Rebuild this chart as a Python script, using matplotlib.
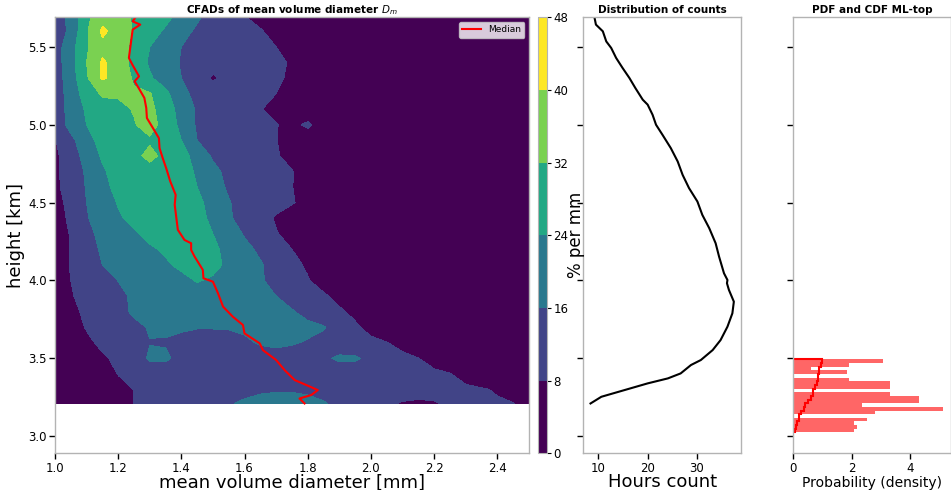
import numpy as np
import matplotlib
matplotlib.use("Agg")
import matplotlib.pyplot as plt

# --- CFAD of Dm: % per mm at grid nodes (rows = height, cols = diameter) ---
diam_nodes = np.linspace(1.0, 2.5, 31)
height_rows = [3.21, 3.3, 3.4, 3.5, 3.6, 3.7, 3.8, 3.9, 4.0, 4.1, 4.2, 4.3, 4.4,
               4.5, 4.6, 4.7, 4.8, 4.9, 5.0, 5.1, 5.2, 5.3, 5.4, 5.5, 5.6, 5.7]
cfad_rows = [
    [0, 1, 2, 3.5, 6, 8.1, 10, 11, 12, 13, 14, 15.5, 17, 18, 18, 18, 17.5, 16.5, 14.5, 12, 10, 9, 7.5, 7, 7.5, 9, 9, 8.8, 8.6, 8.2, 6],
    [0, 1, 2, 3.5, 6, 8.1, 10, 11, 11.5, 12, 12.5, 13, 14, 15, 15.5, 15.5, 15, 14, 13, 12.5, 12, 11.5, 11, 10.5, 10, 9.5, 9, 8.5, 7.5, 5, 3],
    [0.5, 1.5, 3, 5, 8.2, 11, 12, 12.5, 12.5, 12.5, 12.5, 13, 13.5, 13.5, 13.5, 13, 13, 13, 12.5, 12, 11.5, 11, 10, 9.5, 9, 8.2, 6, 4, 2, 1, 0.5],
    [0.5, 2, 4.5, 7, 9.5, 12, 17, 17, 14, 13, 13, 13.5, 14, 14.5, 14, 13.5, 14, 15, 17, 17, 14, 11, 9.5, 8.1, 6, 4, 2, 1],
    [1, 3.5, 6.5, 9.5, 12, 14.5, 15.8, 15.5, 15, 14.5, 14.5, 15, 15.5, 16.3, 17, 16.5, 15.5, 14, 12.5, 11, 9.5, 8.2, 6, 4, 2.5, 1.5, 1],
    [1.5, 5, 8.5, 11, 12.5, 14.5, 16.5, 17, 16.5, 16.2, 16.2, 16.2, 16.5, 17, 18, 18, 17.5, 16.5, 13, 9, 6, 3.5, 2, 1],
    [2, 6, 9.5, 11.5, 14, 17, 18.5, 19.5, 20, 20, 20, 19.5, 19, 18.5, 18, 16.5, 14, 11.5, 9, 6.5, 4, 2, 1],
    [2.5, 7.5, 10, 12, 14.5, 17, 18.5, 19.5, 20, 20.5, 20.5, 20, 19, 17.5, 16, 13.5, 11, 9, 6, 3.5, 2, 1],
    [3, 8, 11, 13.5, 16.1, 18, 19.5, 20.5, 22, 24.5, 23, 21, 19, 16.5, 14.5, 11.5, 8.5, 5, 2.5, 1],
    [3.5, 8.5, 12, 16, 18.5, 20, 21.5, 23, 25.5, 26.5, 26, 22.5, 19, 16.5, 14, 10, 7, 4, 2, 1],
    [4, 8.5, 13, 17, 19, 21, 23, 25, 27.5, 28.5, 26, 21, 17.5, 15, 11, 8, 5, 2.5, 1],
    [4, 8.5, 14, 18, 21, 23, 26, 28, 29, 28.5, 24, 19, 15.5, 11, 8.3, 6.5, 4, 2, 1],
    [4.5, 9.5, 15.5, 19, 23, 26, 28, 29, 29, 27, 22, 17, 13, 10, 7.5, 5, 3, 1.5, 1],
    [5.5, 10, 16, 20, 24.5, 27, 28.5, 29, 28.5, 26, 21, 16.5, 13, 11, 9.5, 8.5, 6, 3, 1],
    [6.5, 11, 16.5, 22, 26, 28, 29, 29, 28, 24, 19, 15, 12, 10, 9.5, 8.2, 5, 2, 1],
    [6.5, 11.5, 17, 23, 27, 28.5, 29, 29, 27, 23, 18, 14, 11.5, 10, 9.5, 8.3, 5, 2, 1],
    [6.5, 12, 19, 25, 28, 30, 34, 30, 27, 21, 15, 12, 10.5, 9.5, 8.6, 6, 3, 1.5, 0.5],
    [7.5, 14, 21, 27, 29, 30, 31, 29, 24, 16, 12, 11, 10, 9, 8.2, 5, 3, 1],
    [11, 18.5, 24, 28, 30, 31.5, 35, 29, 22, 15, 12, 11, 10, 9.5, 8.3, 6, 9.5, 4, 1],
    [11, 19, 25, 29, 30, 32.5, 34, 28, 21, 15, 12, 10.5, 9.5, 8.3, 6, 4, 2, 1],
    [12, 19, 28, 33, 33, 33, 32.5, 26, 18, 14, 12, 11, 10, 9.5, 8, 5, 3, 1],
    [12, 20, 31, 41, 37, 31, 25, 20, 16, 12, 7, 10.5, 10.5, 10.5, 9.5, 6.5, 4, 2, 1],
    [12, 21, 32, 41, 37, 29, 23, 19, 15.5, 13, 11, 11, 11, 11, 10, 7, 4, 2, 1],
    [12, 21, 31, 38, 36, 30, 24, 20, 16, 14, 13, 12, 11, 10, 8, 5, 3, 1.5, 1],
    [11, 18, 31, 41.5, 37, 31, 27, 23, 18, 15, 13, 12, 10, 8.5, 6, 4, 2, 1],
    [12, 18, 30, 37, 36, 31, 29, 26, 22, 17, 14, 11, 8, 6, 4, 3, 2, 1],
]
cfad_levels = [0, 8, 16, 24, 32, 40, 48]

# median Dm profile
median_height = [5.69, 5.664, 5.643, 5.611, 5.536, 5.429, 5.386, 5.311, 5.279, 5.225,
                 5.172, 5.107, 5.043, 4.979, 4.914, 4.85, 4.786, 4.721, 4.636, 4.55,
                 4.486, 4.421, 4.325, 4.26, 4.239, 4.196, 4.153, 4.068, 4.014, 3.992,
                 3.918, 3.832, 3.767, 3.714, 3.66, 3.596, 3.553, 3.489, 3.424, 3.36,
                 3.328, 3.296, 3.264, 3.242, 3.21]
median_diam = [1.255, 1.246, 1.27, 1.246, 1.241, 1.234, 1.245, 1.266, 1.252, 1.268,
               1.283, 1.289, 1.291, 1.31, 1.329, 1.331, 1.341, 1.352, 1.365, 1.382,
               1.379, 1.383, 1.389, 1.41, 1.431, 1.431, 1.442, 1.468, 1.47, 1.5,
               1.516, 1.532, 1.563, 1.595, 1.6, 1.648, 1.658, 1.70, 1.727, 1.759,
               1.796, 1.832, 1.811, 1.774, 1.79]

# hours count per height
count_height = [5.69, 5.643, 5.60, 5.535, 5.493, 5.429, 5.365, 5.30, 5.236, 5.161,
                5.129, 5.064, 5.0, 4.936, 4.85, 4.764, 4.678, 4.593, 4.507, 4.421,
                4.336, 4.239, 4.153, 4.046, 4.003, 3.982, 3.939, 3.864, 3.789, 3.703,
                3.617, 3.553, 3.489, 3.457, 3.403, 3.371, 3.339, 3.296, 3.253, 3.21]
count_hours = [9.2, 9.5, 10.9, 11.6, 12.6, 13.6, 14.9, 16.3, 17.5, 19.0,
               20.0, 21.0, 21.7, 23.0, 24.7, 26.1, 27.1, 28.4, 30.1, 31.1,
               32.5, 33.8, 34.5, 35.5, 36.2, 36.1, 36.5, 37.5, 37.2, 36.2,
               34.8, 33.2, 30.8, 28.8, 26.7, 24.1, 20.0, 15.3, 10.6, 8.4]

# ML-top histogram (density per bin, bottom to top)
mltop_edges = np.linspace(3.024, 3.493, 21)
mltop_density = [2.08, 2.18, 2.08, 2.53, 0, 2.80, 5.15, 2.36, 4.30, 4.30,
                 3.31, 0, 3.31, 3.31, 1.92, 0, 1.84, 0.61, 1.92, 3.06]

ylims = (2.89, 5.69)
yticks = [3.0, 3.5, 4.0, 4.5, 5.0, 5.5]
spine_col = "0.7"


def style_axes(ax):
    for sp in ax.spines.values():
        sp.set_color(spine_col)
        sp.set_linewidth(1.0)
    ax.tick_params(direction="out", length=4, width=1, labelsize=8.5,
                   color="k", pad=2)


fig = plt.figure(figsize=(9.51, 4.9), dpi=100)
ax1 = fig.add_axes([0.0578, 0.0749, 0.4983, 0.8898])
ax2 = fig.add_axes([0.6134, 0.0749, 0.1658, 0.8898])
ax3 = fig.add_axes([0.8342, 0.0749, 0.1658, 0.8898])
cax = fig.add_axes([0.5657, 0.0749, 0.0095, 0.8898])
cax.set_zorder(5)

# CFAD panel
grid = np.zeros((len(height_rows), len(diam_nodes)))
for i, row in enumerate(cfad_rows):
    grid[i, :len(row)] = row
band_colors = [plt.cm.viridis(k / 5) for k in range(6)]
cf = ax1.contourf(diam_nodes, height_rows, grid, levels=cfad_levels,
                  colors=band_colors)
ax1.plot(median_diam, median_height, color="red", lw=1.5, label="Median")
ax1.set_xlim(1.0, 2.5)
ax1.set_ylim(*ylims)
ax1.set_yticks(yticks)
ax1.set_xlabel("mean volume diameter [mm]", fontsize=13, labelpad=-1)
ax1.set_ylabel("height [km]", fontsize=13, labelpad=2)
ax1.set_title("CFADs of mean volume diameter $D_m$", fontsize=7.5,
              fontweight="bold", pad=3)
ax1.legend(loc="upper right", fontsize=6.5)
style_axes(ax1)

cb = fig.colorbar(cf, cax=cax, ticks=cfad_levels)
cb.outline.set_edgecolor(spine_col)
cb.ax.tick_params(labelsize=8.5, length=3, pad=1.5)
cb.set_label("% per mm", fontsize=12, labelpad=-1)

# counts panel
ax2.plot(count_hours, count_height, color="k", lw=1.5)
ax2.set_ylim(*ylims)
ax2.set_yticks(yticks)
ax2.set_yticklabels([])
ax2.set_xticks([10, 20, 30])
ax2.set_xlabel("Hours count", fontsize=13, labelpad=-1)
ax2.set_title("Distribution of counts", fontsize=7.5, fontweight="bold", pad=3)
style_axes(ax2)

# ML-top PDF and CDF panel
widths = np.diff(mltop_edges)
ax3.barh(mltop_edges[:-1], mltop_density, height=widths, align="edge",
         color="red", alpha=0.6)
cdf = np.cumsum(np.array(mltop_density) * widths)
cdf = cdf / cdf[-1]
ax3.stairs(cdf, mltop_edges, orientation="horizontal", color="red", lw=1.5)
ax3.set_ylim(*ylims)
ax3.set_yticks(yticks)
ax3.set_yticklabels([])
ax3.set_xlabel("Probability (density)", fontsize=10, labelpad=1)
ax3.set_title("PDF and CDF ML-top", fontsize=7.5, fontweight="bold", pad=3)
style_axes(ax3)

fig.savefig("out.png", dpi=100)
